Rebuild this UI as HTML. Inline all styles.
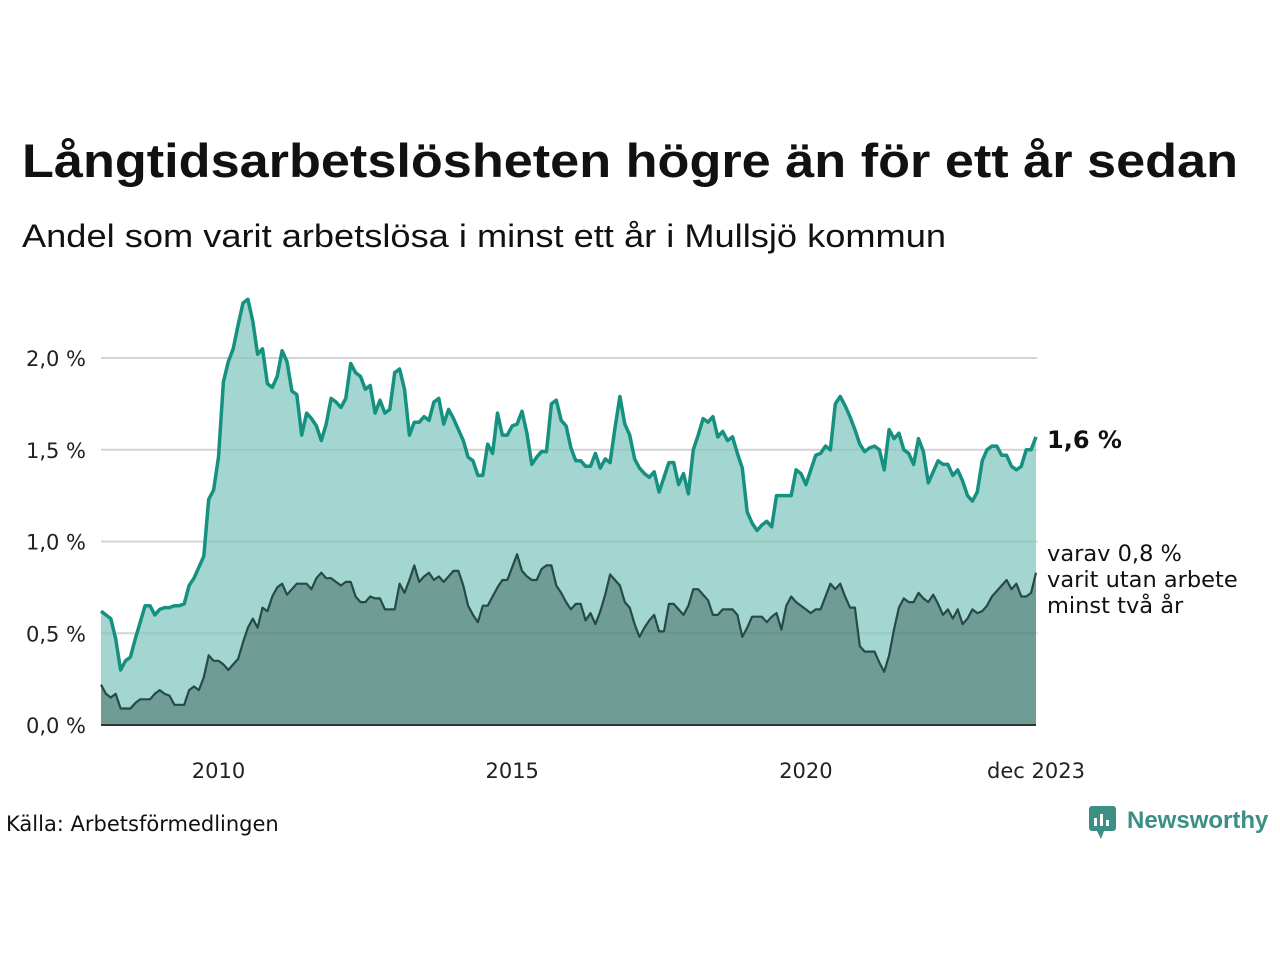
<!DOCTYPE html>
<html><head><meta charset="utf-8"><style>
html,body{margin:0;padding:0;background:#fff;}
svg{display:block;font-family:"DejaVu Sans","Liberation Sans",sans-serif;}
</style></head><body>
<svg id="chart" width="1280" height="960" viewBox="0 0 1280 960" xmlns="http://www.w3.org/2000/svg">
<text x="22" y="177" font-size="47" font-weight="bold" fill="#111" font-family="Liberation Sans, sans-serif" textLength="1216" lengthAdjust="spacingAndGlyphs">Långtidsarbetslösheten högre än för ett år sedan</text>
<text x="22" y="247" font-size="32" fill="#111" font-family="Liberation Sans, sans-serif" textLength="924" lengthAdjust="spacingAndGlyphs">Andel som varit arbetslösa i minst ett år i Mullsjö kommun</text>
<g id="grid"></g>
<g id="areas"></g>
<g id="yaxis"></g>
<g id="xaxis"></g>
<text x="1047" y="448" font-size="24" font-weight="bold" fill="#111">1,6 %</text>
<text font-size="22.5" fill="#111">
<tspan x="1047" y="561">varav 0,8 %</tspan><tspan x="1047" y="587">varit utan arbete</tspan><tspan x="1047" y="613">minst två år</tspan></text>
<text x="6" y="831" font-size="21" fill="#111">Källa: Arbetsförmedlingen</text>
<g>
<rect x="1089" y="806" width="27" height="25" rx="3" fill="#3b8f84"/>
<polygon points="1097,831 1104,831 1101,839" fill="#3b8f84"/>
<rect x="1094" y="818" width="3" height="8" fill="#fff"/><rect x="1100" y="814" width="3" height="12" fill="#fff"/><rect x="1106" y="820" width="3" height="6" fill="#fff"/>
<text x="1127" y="828" font-size="24" font-weight="bold" fill="#3b8f84" font-family="Liberation Sans, sans-serif">Newsworthy</text>
</g>
</svg>
<script>
const startYear = 2008;
const totalShare = [
0.62,0.60,0.58,0.47,0.30,0.35,0.37,0.47,0.56,0.65,0.65,0.60,
0.63,0.64,0.64,0.65,0.65,0.66,0.76,0.80,0.86,0.92,1.23,1.28,
1.46,1.87,1.98,2.05,2.18,2.30,2.32,2.20,2.02,2.05,1.86,1.84,
1.90,2.04,1.98,1.82,1.80,1.58,1.70,1.67,1.63,1.55,1.64,1.78,
1.76,1.73,1.78,1.97,1.92,1.90,1.83,1.85,1.70,1.77,1.70,1.72,
1.92,1.94,1.83,1.58,1.65,1.65,1.68,1.66,1.76,1.78,1.64,1.72,
1.67,1.61,1.55,1.46,1.44,1.36,1.36,1.53,1.48,1.70,1.58,1.58,
1.63,1.64,1.71,1.59,1.42,1.46,1.49,1.49,1.75,1.77,1.66,1.63,
1.51,1.44,1.44,1.41,1.41,1.48,1.40,1.45,1.43,1.62,1.79,1.64,
1.58,1.45,1.40,1.37,1.35,1.38,1.27,1.35,1.43,1.43,1.31,1.37,
1.26,1.50,1.58,1.67,1.65,1.68,1.57,1.60,1.55,1.57,1.48,1.40,
1.16,1.10,1.06,1.09,1.11,1.08,1.25,1.25,1.25,1.25,1.39,1.37,
1.31,1.39,1.47,1.48,1.52,1.50,1.75,1.79,1.74,1.68,1.61,1.53,
1.49,1.51,1.52,1.50,1.39,1.61,1.56,1.59,1.50,1.48,1.42,1.56,
1.49,1.32,1.38,1.44,1.42,1.42,1.36,1.39,1.33,1.25,1.22,1.27,
1.44,1.50,1.52,1.52,1.47,1.47,1.41,1.39,1.41,1.50,1.50,1.57];
const twoYearShare = [
0.22,0.17,0.15,0.17,0.09,0.09,0.09,0.12,0.14,0.14,0.14,0.17,
0.19,0.17,0.16,0.11,0.11,0.11,0.19,0.21,0.19,0.26,0.38,0.35,
0.35,0.33,0.30,0.33,0.36,0.45,0.53,0.58,0.53,0.64,0.62,0.70,
0.75,0.77,0.71,0.74,0.77,0.77,0.77,0.74,0.80,0.83,0.80,0.80,
0.78,0.76,0.78,0.78,0.70,0.67,0.67,0.70,0.69,0.69,0.63,0.63,
0.63,0.77,0.72,0.79,0.87,0.78,0.81,0.83,0.79,0.81,0.78,0.81,
0.84,0.84,0.76,0.65,0.60,0.56,0.65,0.65,0.70,0.75,0.79,0.79,
0.86,0.93,0.84,0.81,0.79,0.79,0.85,0.87,0.87,0.76,0.72,0.67,
0.63,0.66,0.66,0.57,0.61,0.55,0.62,0.71,0.82,0.79,0.76,0.67,
0.64,0.55,0.48,0.53,0.57,0.60,0.51,0.51,0.66,0.66,0.63,0.60,
0.65,0.74,0.74,0.71,0.68,0.60,0.60,0.63,0.63,0.63,0.60,0.48,
0.53,0.59,0.59,0.59,0.56,0.59,0.61,0.52,0.65,0.70,0.67,0.65,
0.63,0.61,0.63,0.63,0.70,0.77,0.74,0.77,0.70,0.64,0.64,0.43,
0.40,0.40,0.40,0.34,0.29,0.38,0.52,0.64,0.69,0.67,0.67,0.72,
0.69,0.67,0.71,0.66,0.60,0.63,0.58,0.63,0.55,0.58,0.63,0.61,
0.62,0.65,0.70,0.73,0.76,0.79,0.74,0.77,0.70,0.70,0.72,0.83];
const yTicks = [0, 0.5, 1.0, 1.5, 2.0];
const yTickLabels = ["0,0 %","0,5 %","1,0 %","1,5 %","2,0 %"];
const xTickYears = [2010, 2015, 2020];
const xTickLabels = ["2010","2015","2020"];
const endLabel = "dec 2023";

const NS = "http://www.w3.org/2000/svg";
const X0 = 101, X1 = 1036, Y0 = 725, PXPER = 183.5;
const n = totalShare.length;
const xPos = i => X0 + (X1 - X0) * i / (n - 1);
const xYear = yr => X0 + (X1 - X0) * ((yr - startYear) * 12) / (n - 1);
const yPos = v => Y0 - v * PXPER;
function mk(tag, attrs, parent){const e=document.createElementNS(NS,tag);for(const k in attrs)e.setAttribute(k,attrs[k]);parent.appendChild(e);return e;}

const grid = document.getElementById('grid'), yaxis = document.getElementById('yaxis'), xaxis = document.getElementById('xaxis'), areas = document.getElementById('areas');
yTicks.forEach((t,k)=>{
  if(t>0){const l=mk('line',{x1:X0,x2:1038,y1:yPos(t),y2:yPos(t),stroke:'#e2e2e6','stroke-width':2},grid);
  
  }
  const tx=mk('text',{x:86,y:yPos(t)+8,'text-anchor':'end','font-size':21,fill:'#222'},yaxis);
  tx.textContent=yTickLabels[k];
  
  
});
xTickYears.forEach((yr,k)=>{
  const tx=mk('text',{x:xYear(yr),y:778,'text-anchor':'middle','font-size':21,fill:'#222'},xaxis);
  tx.textContent=xTickLabels[k];
  
  
});
const el=mk('text',{x:X1,y:778,'text-anchor':'middle','font-size':21,fill:'#222'},xaxis);
el.textContent=endLabel;



function linePts(arr){return arr.map((v,i)=>xPos(i).toFixed(1)+','+yPos(v).toFixed(1)).join(' ');}
function areaD(arr){return 'M'+X0+','+Y0+' L'+linePts(arr).split(' ').join(' L')+' L'+X1+','+Y0+' Z';}
const a1=mk('path',{d:areaD(totalShare),fill:'#a3d6d1'},areas);


const a2=mk('path',{d:areaD(twoYearShare),fill:'#6f9c95'},areas);


yTicks.forEach(t=>{if(t>0){const l=mk('line',{x1:X0,x2:X1,y1:yPos(t),y2:yPos(t),stroke:'#000','stroke-opacity':0.06,'stroke-width':2},areas);

}});
const l1=mk('polyline',{points:linePts(totalShare),fill:'none',stroke:'#16907f','stroke-width':3.5,'stroke-linejoin':'round'},areas);


const l2=mk('polyline',{points:linePts(twoYearShare),fill:'none',stroke:'#274a45','stroke-width':2.2,'stroke-linejoin':'round'},areas);


const ax=mk('line',{x1:X0,x2:X1,y1:Y0,y2:Y0,stroke:'#333','stroke-width':2},areas);


</script>
</body></html>
